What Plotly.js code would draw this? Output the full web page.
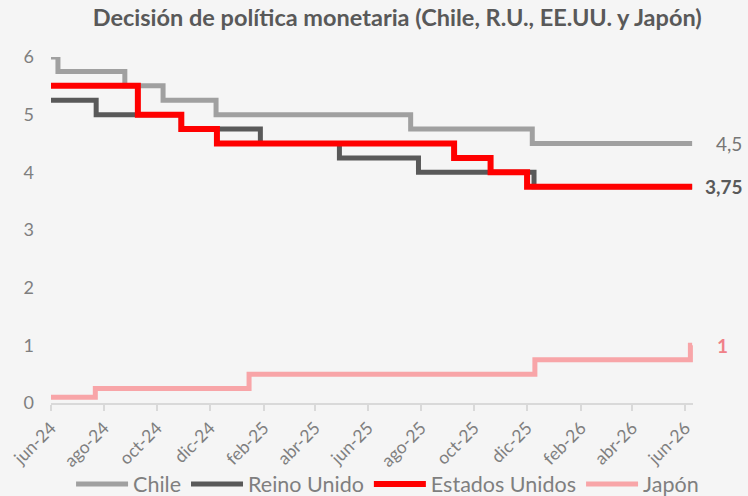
<!DOCTYPE html>
<html>
<head>
<meta charset="utf-8">
<script src="https://cdn.plot.ly/plotly-3.0.1.min.js"></script>
<style>html,body{margin:0;padding:0;background:#f5f5f5;}#chart{width:748px;height:496px;}</style>
</head>
<body>
<div id="chart"></div>
<script>
// Series data (policy rate change dates and levels, %)
const chileDates = ['2024-06-10','2024-06-18','2024-09-03','2024-10-17','2024-12-17','2025-07-29','2025-12-16','2026-06-18'];
const chileValues = [6, 5.75, 5.5, 5.25, 5, 4.75, 4.5, 4.5];

const ukDates = ['2024-06-10','2024-08-01','2024-11-07','2025-02-06','2025-05-08','2025-08-07','2025-12-18','2026-06-18'];
const ukValues = [5.25, 5, 4.75, 4.5, 4.25, 4, 3.75, 3.75];

const usDates = ['2024-06-10','2024-09-18','2024-11-07','2024-12-18','2025-09-17','2025-10-29','2025-12-10','2026-06-18'];
const usValues = [5.5, 5, 4.75, 4.5, 4.25, 4, 3.75, 3.75];

const japanDates = ['2024-06-10','2024-07-31','2025-01-24','2025-12-19','2026-06-16','2026-06-18'];
const japanValues = [0.1, 0.25, 0.5, 0.75, 1, 1];

const seriesNames = ['Chile', 'Reino Unido', 'Estados Unidos', 'Japón'];

const tickDates = ['2024-06-10','2024-08-10','2024-10-10','2024-12-10','2025-02-10','2025-04-10','2025-06-10','2025-08-10','2025-10-10','2025-12-10','2026-02-10','2026-04-10','2026-06-10'];
const tickLabels = ['jun-24','ago-24','oct-24','dic-24','feb-25','abr-25','jun-25','ago-25','oct-25','dic-25','feb-26','abr-26','jun-26'];

const colors = ['#a0a0a0', '#595959', '#ff0000', '#f8a5a8'];
const widths = [5, 5, 6, 5];
const datesList = [chileDates, ukDates, usDates, japanDates];
const valuesList = [chileValues, ukValues, usValues, japanValues];

const traces = seriesNames.map((name, i) => ({
  type: 'scatter', mode: 'lines', name: name,
  x: datesList[i], y: valuesList[i],
  line: {shape: 'hv', color: colors[i], width: widths[i]},
  cliponaxis: false, hoverinfo: 'skip'
}));

function fmt(v){ return String(v).replace('.', ','); }
const labelStyles = {
  0: {color: '#767676', bold: false, shift: 22},
  2: {color: '#595959', bold: true, shift: 11},
  3: {color: '#f08088', bold: true, shift: 23}
};
const annotations = [];
[0, 2, 3].forEach(i => {
  const d = datesList[i], v = valuesList[i], s = labelStyles[i];
  const t = fmt(v[v.length - 1]);
  annotations.push({
    x: d[d.length - 1], y: v[v.length - 1], xref: 'x', yref: 'y',
    text: s.bold ? '<b>' + t + '</b>' : t,
    showarrow: false, xanchor: 'left', yanchor: 'middle', xshift: s.shift,
    font: {family: 'Lato, sans-serif', size: 19, color: s.color}
  });
});

const layout = {
  width: 748, height: 496,
  paper_bgcolor: '#f5f5f5', plot_bgcolor: '#f5f5f5',
  margin: {l: 51, r: 55, t: 57, b: 93},
  title: {
    text: '<b>Decisión de política monetaria (Chile, R.U., EE.UU. y Japón)</b>',
    font: {family: 'Lato, sans-serif', size: 23.5, color: '#595959'},
    x: 0.531, xref: 'container', xanchor: 'center',
    y: 0.964, yref: 'container', yanchor: 'middle'
  },
  xaxis: {
    type: 'date', range: ['2024-06-10', '2026-06-19'], automargin: false,
    tickvals: tickDates, ticktext: tickLabels, tickangle: -45,
    ticks: 'outside', ticklen: 6, tickcolor: '#d9d9d9', tickwidth: 1.5,
    showline: true, linecolor: '#d9d9d9', linewidth: 2,
    showgrid: false, zeroline: false,
    tickfont: {family: 'Lato, sans-serif', size: 17.5, color: '#7f7f7f'}
  },
  yaxis: {
    range: [0, 6], dtick: 1, showgrid: false, zeroline: false, showline: false,
    ticks: '', ticklabelstandoff: 16, automargin: false,
    tickfont: {family: 'Lato, sans-serif', size: 18, color: '#7f7f7f'}
  },
  showlegend: true,
  legend: {
    orientation: 'h', x: 0.095, xref: 'container', xanchor: 'left',
    y: 0.024, yref: 'container', yanchor: 'middle', itemwidth: 52,
    font: {family: 'Lato, sans-serif', size: 21.5, color: '#7f7f7f'},
    bgcolor: 'rgba(0,0,0,0)', traceorder: 'normal', tracegroupgap: 0
  },
  annotations: annotations
};

Plotly.newPlot('chart', traces, layout, {displayModeBar: false, staticPlot: true});
</script>
</body>
</html>
